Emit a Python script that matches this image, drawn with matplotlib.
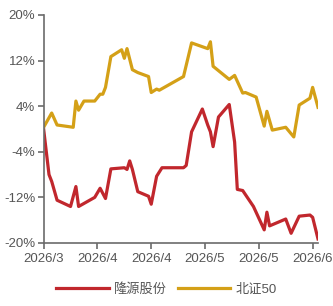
import matplotlib
matplotlib.use("Agg")
import matplotlib.pyplot as plt

plt.rcParams['font.family'] = ['Liberation Sans', 'Noto Sans CJK SC', 'DejaVu Sans']

# trading-day index and values (%)
bz_x = [0, 3, 5, 11, 12, 13, 15, 19, 21, 22, 23, 25, 29, 30, 31, 33, 35, 39, 40, 42, 43,
        52, 55, 61, 62, 63, 69, 71, 74, 75, 79, 82, 83, 85, 90, 93, 95, 99, 100, 102]
bz_y = [0.3, 2.8, 0.7, 0.3, 4.9, 3.3, 4.9, 4.9, 6.1, 6.1, 7.3, 12.7, 13.9, 12.4, 14.1, 10.4, 9.9, 9.2, 6.4, 7.0, 6.8,
        9.2, 15.1, 14.1, 15.3, 11.0, 8.7, 9.4, 6.3, 6.4, 5.6, 0.5, 3.1, -0.2, 0.3, -1.4, 4.2, 5.4, 7.3, 3.8]

ly_x = [0, 2, 3, 5, 10, 12, 13, 19, 21, 23, 25, 30, 31, 32, 33, 35, 39, 40, 42, 44,
        52, 53, 55, 59, 61, 62, 63, 65, 69, 71, 72, 74, 78, 82, 83, 84, 90, 92, 95, 99, 100, 102]
ly_y = [0.0, -8.0, -9.2, -12.5, -13.6, -10.1, -13.6, -12.0, -10.4, -12.2, -7.0, -6.8, -7.1, -5.6, -7.1, -11.0, -11.8, -13.2, -8.3, -6.8,
        -6.8, -6.4, -0.5, 3.5, 0.7, -0.5, -3.1, 2.1, 4.3, -2.3, -10.6, -10.8, -13.6, -17.7, -14.6, -17.0, -15.8, -18.3, -15.3, -15.1, -15.5, -19.3]

xtick_pos = [0, 20, 40, 60, 80, 100]
xtick_labels = ['2026/3', '2026/4', '2026/4', '2026/5', '2026/5', '2026/6']
ytick_pos = [-20, -12, -4, 4, 12, 20]
ytick_labels = ['-20%', '-12%', '-4%', '4%', '12%', '20%']
names = ['隆源股份', '北证50']
colors = ['#C1272D', '#D4A017']

fig = plt.figure(figsize=(3.33, 3.06), dpi=100)
ax = fig.add_axes([0.131, 0.206, 0.824, 0.745])
ax.plot(ly_x, ly_y, color=colors[0], lw=2.3, label=names[0], solid_joinstyle='round')
ax.plot(bz_x, bz_y, color=colors[1], lw=2.3, label=names[1], solid_joinstyle='round')
ax.set_xlim(0, 102)
ax.set_ylim(-20, 20)
ax.set_xticks(xtick_pos)
ax.set_xticklabels(xtick_labels)
ax.set_yticks(ytick_pos)
ax.set_yticklabels(ytick_labels)
for s in ['top', 'right']:
    ax.spines[s].set_visible(False)
for s in ['left', 'bottom']:
    ax.spines[s].set_color('#6b6b6b')
    ax.spines[s].set_linewidth(1.2)
ax.tick_params(axis='both', colors='#6b6b6b', labelcolor='#555555', labelsize=9.5, length=4, width=1.2)
ax.tick_params(axis='x', pad=3)
ax.tick_params(axis='y', pad=2)
leg = fig.legend(loc='lower center', bbox_to_anchor=(0.5, -0.005), ncol=2, frameon=False,
                 fontsize=9.5, handlelength=4.0, handletextpad=0.4, columnspacing=0.8)
for t in leg.get_texts():
    t.set_color('#555555')
fig.savefig('out.png', dpi=100)
